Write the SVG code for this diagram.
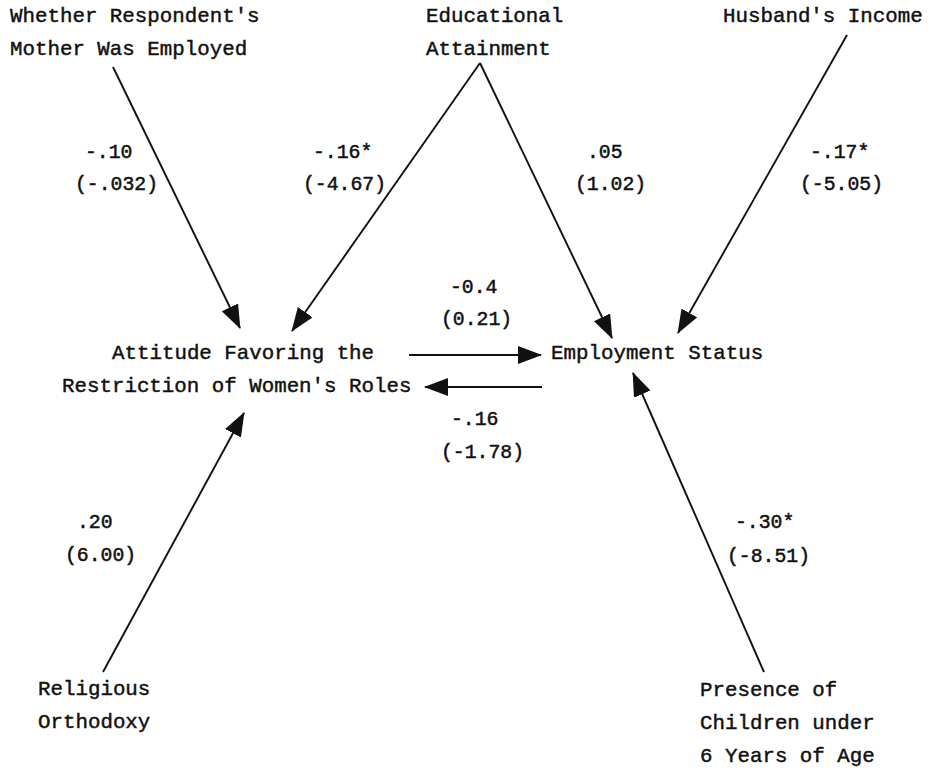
<svg xmlns="http://www.w3.org/2000/svg" width="929" height="772" viewBox="0 0 929 772">
  <style>
    .node { font-family: "Liberation Mono", "DejaVu Sans Mono", monospace; font-size: 20.8px; fill: #111; stroke: #111; stroke-width: 0.45; }
    .coef { font-family: "Liberation Mono", "DejaVu Sans Mono", monospace; font-size: 19.8px; fill: #111; stroke: #111; stroke-width: 0.5; }
    .path { stroke: #111; stroke-width: 1.9; fill: none; marker-end: url(#head); }
  </style>
  <defs>
    <marker id="head" viewBox="0 0 24 18" refX="23" refY="9" markerWidth="24" markerHeight="18" markerUnits="userSpaceOnUse" orient="auto">
      <path d="M0,0 L24,9 L0,18 z" fill="#111"/>
    </marker>
  </defs>
  <rect width="929" height="772" fill="#fff"/>

  <!-- causal paths -->
  <g id="connectors">
    <line class="path" x1="113" y1="67" x2="240" y2="328"/>
    <line class="path" x1="480" y1="63" x2="292" y2="331"/>
    <line class="path" x1="480" y1="63" x2="612" y2="338"/>
    <line class="path" x1="847" y1="35" x2="678" y2="333"/>
    <line class="path" x1="409" y1="355" x2="541" y2="355"/>
    <line class="path" x1="542" y1="387" x2="425" y2="387"/>
    <line class="path" x1="103" y1="672" x2="244" y2="413"/>
    <line class="path" x1="764" y1="672" x2="633" y2="373"/>
  </g>

  <!-- path coefficients (t-values in parentheses) -->
  <g id="coefficients">
    <text class="coef" x="85" y="158">-.10</text>
    <text class="coef" x="75" y="190">(-.032)</text>
    <text class="coef" x="313" y="158">-.16*</text>
    <text class="coef" x="303" y="190">(-4.67)</text>
    <text class="coef" x="587" y="158">.05</text>
    <text class="coef" x="575" y="190">(1.02)</text>
    <text class="coef" x="810" y="158">-.17*</text>
    <text class="coef" x="800" y="190">(-5.05)</text>
    <text class="coef" x="450" y="293">-0.4</text>
    <text class="coef" x="441" y="325">(0.21)</text>
    <text class="coef" x="451" y="425">-.16</text>
    <text class="coef" x="441" y="458">(-1.78)</text>
    <text class="coef" x="77" y="528">.20</text>
    <text class="coef" x="65" y="561">(6.00)</text>
    <text class="coef" x="735" y="528">-.30*</text>
    <text class="coef" x="727" y="562">(-8.51)</text>
  </g>

  <g id="mother-employed">
    <text class="node" x="10" y="22">Whether Respondent's</text>
    <text class="node" x="10" y="55">Mother Was Employed</text>
  </g>
  <g id="education">
    <text class="node" x="426" y="22">Educational</text>
    <text class="node" x="426" y="55">Attainment</text>
  </g>
  <g id="husband-income">
    <text class="node" x="723" y="22">Husband's Income</text>
  </g>
  <g id="attitude">
    <text class="node" x="112" y="359">Attitude Favoring the</text>
    <text class="node" x="62" y="392">Restriction of Women's Roles</text>
  </g>
  <g id="employment">
    <text class="node" x="551" y="359">Employment Status</text>
  </g>
  <g id="religious">
    <text class="node" x="38" y="695">Religious</text>
    <text class="node" x="38" y="728">Orthodoxy</text>
  </g>
  <g id="children">
    <text class="node" x="700" y="696">Presence of</text>
    <text class="node" x="700" y="729">Children under</text>
    <text class="node" x="700" y="762">6 Years of Age</text>
  </g>
</svg>
